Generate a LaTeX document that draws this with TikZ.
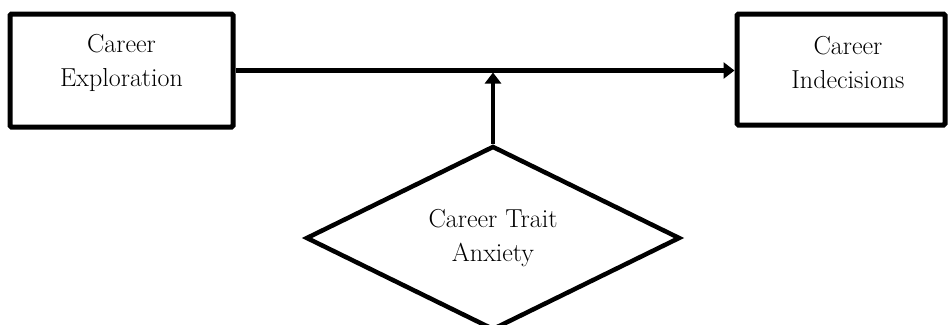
\documentclass[tikz,border=0pt]{standalone}
\usetikzlibrary{shapes.geometric,arrows.meta,calc}
\begin{document}
\begin{tikzpicture}[x=1pt,y=-1pt,
  lbl/.style={align=center,font=\fontsize{26}{34}\selectfont,inner sep=0pt},
  boxstyle/.style={draw,line width=5pt,rounded corners=1.5pt,inner sep=0pt},
  conn/.style={line width=4.5pt,-{Triangle[length=11pt,width=16pt]}}]
\clip (0,0) rectangle (950,324);
\node[boxstyle,minimum width=223pt,minimum height=113pt] (expl) at (121.5,70.5) {};
\node[boxstyle,minimum width=208pt,minimum height=111pt] (indec) at (841,69.5) {};
\node[lbl] (explt) at ([yshift=8pt]expl.center) {Career\\Exploration};
\node[lbl] (indect) at ([xshift=7pt,yshift=7pt]indec.center) {Career\\Indecisions};
\node[draw,diamond,line width=4.5pt,minimum width=374pt,minimum height=184pt,inner sep=0pt,aspect=2.05] (anx) at (493,238) {};
\node[lbl] (anxt) at (anx.center) {Career Trait\\Anxiety};
\coordinate (m) at (anx.north |- expl.east);
\draw[conn] (expl.east) -- (expl.east -| indec.west);
\draw[conn] (anx.north) -- ([yshift=-2pt]m);
\end{tikzpicture}
\end{document}
